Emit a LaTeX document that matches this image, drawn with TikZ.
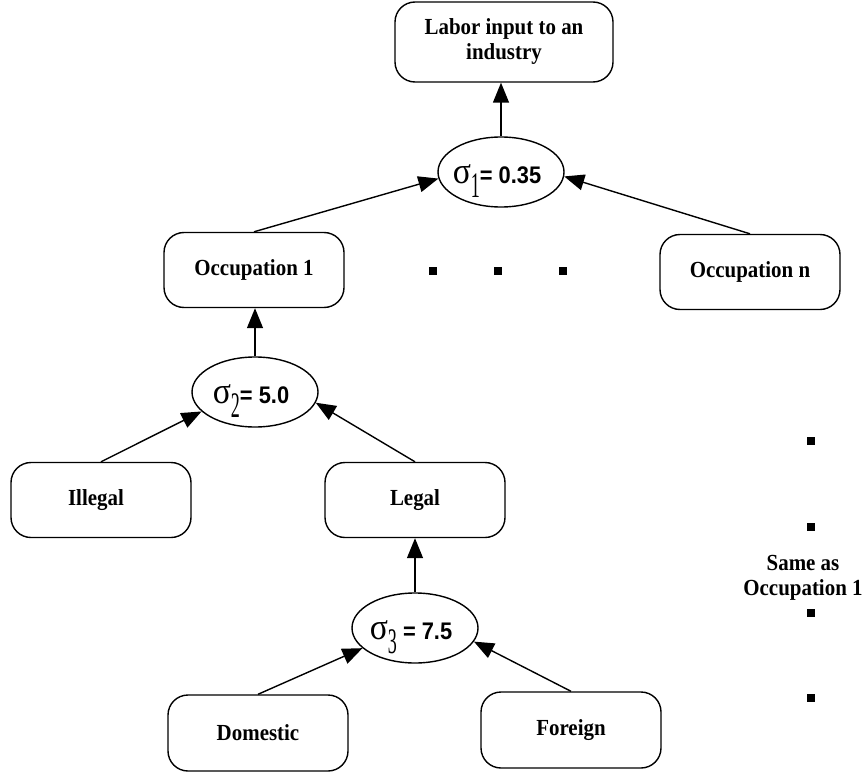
\documentclass[tikz,border=0pt]{standalone}
\usepackage{fontspec}
\setmainfont{Liberation Serif}
\newfontfamily\boxfont[FakeStretch=0.91]{Liberation Serif}
\newfontfamily\arialfont[FakeStretch=0.91]{Liberation Sans}
\usetikzlibrary{shapes.geometric,arrows.meta}
\newcommand{\sigtext}[2]{\makebox[0pt]{\raisebox{-11pt}[0pt][0pt]{{\boxfont\fontsize{37}{37}\selectfont σ}\raisebox{-14pt}{\scalebox{0.5}[1]{\fontsize{36}{36}\selectfont #1}}{\arialfont\bfseries\fontsize{24}{24}\selectfont #2}}\hspace*{8pt}}}
\tikzset{
  box/.style={draw, line width=1.4pt, rounded corners=20pt, align=center, inner sep=0pt,
    font=\boxfont\bfseries\fontsize{23}{25}\selectfont, minimum width=180pt, minimum height=75pt},
  oval/.style={draw, ellipse, line width=1.4pt, inner sep=0pt, minimum width=126pt, minimum height=70pt},
  arr/.style={-{Triangle[length=20pt,width=16pt]}, line width=1.4pt},
  sqdot/.style={fill=black, minimum size=8pt, inner sep=0pt},
  note/.style={align=center, font=\boxfont\bfseries\fontsize{23}{25}\selectfont, inner sep=0pt}
}
\begin{document}
\begin{tikzpicture}[x=1pt,y=-1pt]
\useasboundingbox (0,0) rectangle (864,773);
\node[box, minimum width=218pt, minimum height=80pt] (top) at (504,42) {Labor input to an\\industry};
\node[oval] (s1) at (501,172) {\sigtext{1}{= 0.35}};
\node[box] (occ1) at (254,270) {Occupation 1};
\node[box] (occn) at (750,272) {Occupation n};
\node[oval] (s2) at (255,392) {\sigtext{2}{= 5.0}};
\node[box] (illegal) at (101,500) {Illegal\hspace*{10pt}};
\node[box] (legal) at (415,500) {Legal};
\node[oval] (s3) at (415,628) {\sigtext{3}{\ = 7.5}};
\node[box, minimum height=76pt] (domestic) at (258,733) {Domestic};
\node[box, minimum height=76pt] (foreign) at (571,730) {Foreign};
\node[sqdot] (h1) at (433,271) {};
\node[sqdot] (h2) at (498,271) {};
\node[sqdot] (h3) at (563,271) {};
\node[sqdot] (v1) at (811,441) {};
\node[sqdot] (v2) at (811,527) {};
\node[sqdot] (v3) at (811,613) {};
\node[sqdot] (v4) at (811,698) {};
\node[note] (same) at (803,578) {Same as\\Occupation 1};
\draw[arr] (s1.north) -- (s1.north |- top.south);
\draw[arr] (occ1.north) -- (s1.186);
\draw[arr] (occn.north) -- (s1.356);
\draw[arr] (s2.north) -- (s2.north |- occ1.south);
\draw[arr] (illegal.north) -- (s2.200);
\draw[arr] (legal.north) -- (s2.350);
\draw[arr] (s3.north) -- (s3.north |- legal.south);
\draw[arr] (domestic.north) -- (s3.201);
\draw[arr] (foreign.north) -- (s3.347);
\end{tikzpicture}
\end{document}
